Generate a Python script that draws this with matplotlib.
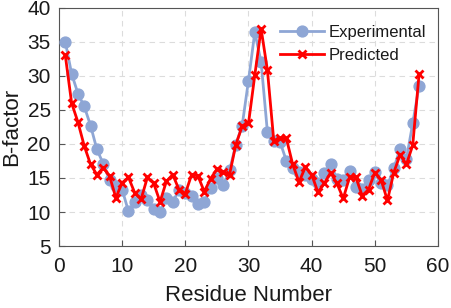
import matplotlib
matplotlib.use("Agg")
import matplotlib.pyplot as plt

residues = list(range(1, 58))
experimental = [35.0, 30.3, 27.4, 25.5, 22.7, 19.2, 17.1, 14.7, 13.8, 13.3,
                10.1, 11.5, 12.5, 11.8, 10.5, 10.0, 12.0, 11.5, 13.2, 12.8,
                12.3, 11.2, 11.5, 13.5, 15.0, 13.9, 16.1, 19.9, 22.7, 29.3,
                36.4, 32.0, 21.7, 20.5, 20.3, 17.5, 16.4, 15.9, 15.5, 14.9,
                14.2, 15.7, 17.0, 14.9, 14.7, 16.0, 13.7, 13.4, 14.7, 15.9,
                14.2, 13.9, 16.4, 19.3, 17.8, 23.0, 28.5]
predicted = [33.0, 26.0, 23.2, 19.7, 17.0, 15.5, 16.5, 15.3, 12.1, 14.3,
             15.1, 12.8, 11.9, 15.1, 14.2, 11.5, 14.5, 15.5, 13.3, 12.7,
             15.5, 15.3, 13.0, 14.9, 16.3, 15.9, 15.5, 19.9, 22.6, 23.0,
             30.1, 36.9, 30.8, 20.5, 20.8, 20.8, 17.0, 14.4, 16.6, 15.5,
             12.9, 14.2, 15.8, 14.2, 12.0, 15.1, 15.1, 12.4, 13.3, 15.8,
             14.7, 11.7, 15.8, 18.4, 17.0, 19.8, 30.2]
xticks = [0, 10, 20, 30, 40, 50, 60]
yticks = [5, 10, 15, 20, 25, 30, 35, 40]

plt.rcParams['font.family'] = ['Liberation Sans', 'DejaVu Sans']

fig = plt.figure(figsize=(4.52, 3.08), dpi=100)
ax = fig.add_axes([0.1305, 0.201, 0.8385, 0.774])

ax.plot(residues, experimental, color='#8EA6D5', lw=2.0, marker='o',
        markersize=7.8, label='Experimental', zorder=3)
ax.plot(residues, predicted, color='#FF0000', lw=2.0, marker='x',
        markersize=5.5, markeredgewidth=2.0, label='Predicted', zorder=4)

ax.set_xlim(0, 60)
ax.set_ylim(5, 40)
ax.set_xticks(xticks)
ax.set_yticks(yticks)
ax.tick_params(direction='in', labelsize=15, length=4, width=0.8,
               colors='#555555', labelcolor='#1a1a1a')
ax.tick_params(axis='x', pad=8)
ax.tick_params(axis='y', pad=6)
for s in ax.spines.values():
    s.set_color('#555555')
    s.set_linewidth(0.8)
ax.grid(True, color='#dcdcdc', linestyle=(0, (5, 4)), linewidth=0.8)
ax.set_axisbelow(True)

ax.set_xlabel('Residue Number', fontsize=16, color='#1a1a1a', labelpad=6.5)
ax.set_ylabel('B-factor', fontsize=16, color='#1a1a1a', labelpad=4)

leg = ax.legend(loc='upper right', bbox_to_anchor=(1.0, 0.975), frameon=False,
                fontsize=12, handlelength=2.6, handletextpad=0.3,
                borderaxespad=0.3, labelspacing=0.45)
for t in leg.get_texts():
    t.set_color('#1a1a1a')

fig.savefig('out.png', dpi=100)
